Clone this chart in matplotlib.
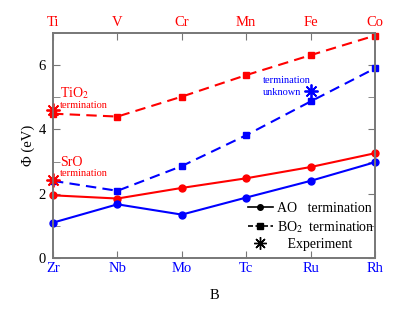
import numpy as np
import matplotlib.pyplot as plt
from matplotlib.lines import Line2D

plt.rcParams['font.family'] = ['Liberation Serif', 'DejaVu Serif']
plt.rcParams['mathtext.fontset'] = 'stix'

top_labels = ['Ti', 'V', 'Cr', 'Mn', 'Fe', 'Co']
bottom_labels = ['Zr', 'Nb', 'Mo', 'Tc', 'Ru', 'Rh']

red_ao = [1.95, 1.85, 2.18, 2.48, 2.83, 3.26]
red_bo2 = [4.49, 4.40, 5.02, 5.69, 6.31, 6.92]
blue_ao = [1.10, 1.67, 1.35, 1.88, 2.40, 2.98]
blue_bo2 = [2.40, 2.09, 2.86, 3.82, 4.87, 5.90]

# experiment points: (category index, value, colour)
exp_x = [0, 0, 4]
exp_y = [4.60, 2.42, 5.20]
exp_c = ['red', 'red', 'blue']

red = '#ff0000'
blue = '#0000ff'
grey = '#777777'

fig = plt.figure(figsize=(4.15, 3.12), dpi=100)
ax = fig.add_axes([53/415, 1 - 258/312, 322/415, 225/312])

x = np.arange(len(bottom_labels))
ax.plot(x, red_ao, '-', color=red, marker='o', ms=5, lw=1.5, clip_on=False)
ax.plot(x, red_bo2, '--', color=red, marker='s', ms=4.5, lw=1.5, dashes=(5, 3), clip_on=False)
ax.plot(x, blue_ao, '-', color=blue, marker='o', ms=5, lw=1.5, clip_on=False)
ax.plot(x, blue_bo2, '--', color=blue, marker='s', ms=4.5, lw=1.5, dashes=(5, 3), clip_on=False)
for xi, yi, c in zip(exp_x, exp_y, exp_c):
    ax.plot(xi, yi, marker=(8, 2, 0), ms=10, color=red if c == 'red' else blue,
            mew=1.3, ls='none', clip_on=False, zorder=5)

ax.set_xlim(0, 5)
ax.set_ylim(0, 7)
ax.set_xticks(x)
ax.set_xticklabels(bottom_labels, color=blue, fontsize=10.5)
ax.set_yticks([0, 2, 4, 6])
ax.set_yticks([1, 3, 5, 7], minor=True)
ax.tick_params(axis='y', which='both', direction='in', length=5, labelsize=10.5, pad=5,
               right=True, color=grey)
ax.tick_params(axis='x', direction='in', length=5, color=grey, pad=3)
ax.set_ylabel('Φ (eV)', fontsize=10.5, labelpad=3)
ax.set_xlabel('B', fontsize=10.5, labelpad=10)

ax2 = ax.twiny()
ax2.set_xlim(0, 5)
ax2.set_xticks(x)
ax2.set_xticklabels(top_labels, color=red, fontsize=10.5)
ax2.tick_params(axis='x', direction='in', length=5, color=grey, pad=3)

for a in (ax, ax2):
    for s in a.spines.values():
        s.set_color(grey)
        s.set_linewidth(1.2)

ax.text(0.11, 5.0, 'TiO$_2$', color=red, fontsize=10)
ax.text(0.11, 4.68, 'termination', color=red, fontsize=7.5)
ax.text(0.11, 2.86, 'SrO', color=red, fontsize=10)
ax.text(0.11, 2.56, 'termination', color=red, fontsize=7.5)
ax.text(3.26, 5.45, 'termination', color=blue, fontsize=7.5)
ax.text(3.26, 5.08, 'unknown', color=blue, fontsize=7.5)

handles = [
    Line2D([], [], color='black', marker='o', ms=4, lw=1.2),
    Line2D([], [], color='black', marker='s', ms=4, lw=1.2, ls='--', dashes=(3, 1.5)),
    Line2D([], [], color='black', marker=(8, 2, 0), ms=9, ls='none'),
]
labels = ['AO   termination', 'BO$_2$  termination', '   Experiment']
ax.legend(handles, labels, loc='lower right', frameon=False, fontsize=10,
          handlelength=1.8, handletextpad=0.3, labelspacing=0.25,
          bbox_to_anchor=(1.02, 0.0), borderaxespad=0.1)

fig.savefig('out.png', dpi=100)
